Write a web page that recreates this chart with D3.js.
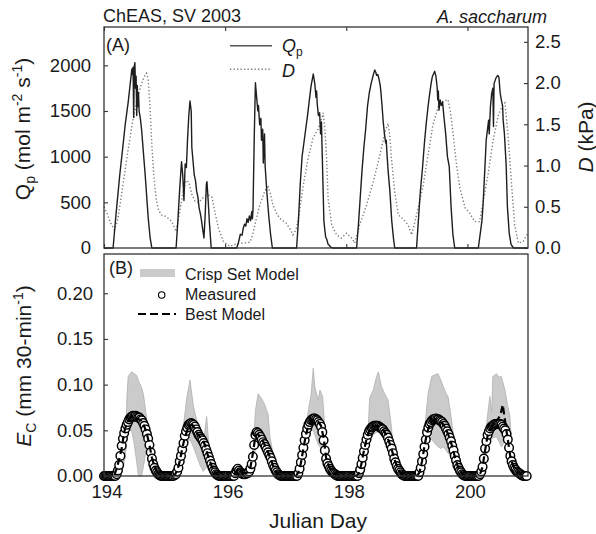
<!DOCTYPE html>
<html><head><meta charset="utf-8">
<script src="https://cdn.jsdelivr.net/npm/d3@7/dist/d3.min.js"></script>
<style>
body{margin:0;background:#fff}
svg{display:block}
text{font-family:"Liberation Sans",Arial,Helvetica,sans-serif;fill:#1a1a1a}
</style>
</head><body>
<svg id="c" width="596" height="534"></svg>
<script>
// ---------------- DATA ----------------
const dayTicks = [194, 196, 198, 200];
const qpTicks = [0, 500, 1000, 1500, 2000];
const dTicks = [0, 0.5, 1.0, 1.5, 2.0, 2.5];
const ecTicks = [0, 0.05, 0.10, 0.15, 0.20];

// Qp (solid line), irregular sampling
const qpDays = [
194.00,194.15,194.20,194.26,194.31,194.35,194.40,194.43,194.46,194.47,194.48,194.49,194.50,194.51,194.52,194.53,194.54,194.55,194.56,194.57,194.58,194.60,194.62,194.65,194.68,194.73,194.76,194.79,
195.19,195.22,195.25,195.28,195.30,195.32,195.34,195.36,195.38,195.40,195.42,195.44,195.45,195.47,195.49,195.51,195.53,195.55,195.57,195.59,195.61,195.635,195.65,195.67,195.69,195.70,195.72,195.74,195.77,
196.19,196.22,196.25,196.28,196.30,196.32,196.34,196.36,196.38,196.40,196.42,196.44,196.45,196.46,196.48,196.50,196.52,196.54,196.55,196.57,196.59,196.60,196.62,196.63,196.65,196.66,196.69,196.72,196.75,196.78,
197.18,197.21,197.24,197.27,197.30,197.33,197.36,197.39,197.42,197.455,197.48,197.50,197.51,197.52,197.54,197.56,197.575,197.59,197.60,197.615,197.63,197.645,197.66,197.68,197.70,197.72,197.74,197.78,
198.17,198.20,198.23,198.26,198.29,198.32,198.35,198.38,198.41,198.44,198.47,198.49,198.50,198.52,198.54,198.56,198.57,198.59,198.61,198.63,198.65,198.66,198.67,198.69,198.72,198.75,198.78,198.80,
199.16,199.19,199.22,199.26,199.29,199.32,199.35,199.37,199.40,199.42,199.46,199.48,199.50,199.51,199.52,199.53,199.55,199.57,199.59,199.61,199.64,199.67,199.70,199.73,199.76,199.79,
200.18,200.21,200.24,200.26,200.29,200.31,200.33,200.35,200.36,200.38,200.40,200.42,200.43,200.44,200.47,200.50,200.52,200.54,200.56,200.58,200.59,200.61,200.64,200.66,200.69,200.72,200.76,201.00];
const qpValues = [
0,0,380,800,1100,1350,1600,1780,1960,1900,1980,1430,1990,2030,1750,1880,1450,1780,1550,1700,1500,1420,1300,1050,800,330,120,0,
0,300,650,944,800,520,920,880,1200,1450,1610,1500,1100,950,800,740,620,560,440,380,300,180,110,350,700,725,520,280,0,
0,60,150,140,220,260,240,320,280,350,300,400,320,420,1200,1810,1650,1500,1560,1350,1420,1180,1300,930,1250,900,600,350,150,0,
0,300,700,1000,1150,1300,1450,1620,1780,1905,1800,1650,1720,1580,1450,1480,1250,1380,1100,700,300,200,120,90,40,30,10,0,
0,250,550,850,1100,1300,1550,1700,1800,1880,1950,1920,1890,1900,1850,1780,1720,1560,1380,1250,1150,1180,1050,850,620,300,100,0,
0,300,600,890,1150,1365,1550,1655,1800,1875,1935,1880,1760,1620,1720,1510,1620,1560,1600,1450,1258,1000,890,450,150,0,
0,150,300,500,900,1180,1290,1400,1250,1550,1690,1750,1330,1800,1860,1890,1870,1700,1620,1560,1400,1258,900,450,160,40,0,0];

// D (dotted line)
const dDays = [
194.00,194.05,194.10,194.17,194.22,194.27,194.33,194.40,194.47,194.54,194.61,194.66,194.70,194.73,194.76,194.79,194.82,194.86,194.90,194.95,
195.03,195.12,195.19,195.25,195.31,195.36,195.40,195.45,195.50,195.56,195.62,195.67,195.73,195.78,195.83,195.89,195.97,
196.08,196.19,196.30,196.41,196.45,196.49,196.57,196.66,196.71,196.75,196.79,196.85,196.90,
197.01,197.08,197.12,197.17,197.21,197.29,197.37,197.45,197.54,197.60,197.62,197.65,197.675,197.70,197.76,197.84,197.92,
198.005,198.09,198.14,198.22,198.335,198.445,198.555,198.64,198.69,198.72,198.745,198.80,198.86,198.94,
199.02,199.08,199.16,199.27,199.35,199.43,199.52,199.60,199.68,199.72,199.765,199.82,199.875,199.96,
200.04,200.12,200.20,200.26,200.34,200.42,200.51,200.58,200.62,200.67,200.73,200.78,200.84,200.92,201.00];
const dValues = [
0.50,0.42,0.32,0.22,0.32,0.55,0.85,1.20,1.52,1.78,1.97,2.07,2.12,2.05,1.70,1.25,0.90,0.60,0.46,0.40,
0.38,0.32,0.20,0.44,0.70,0.82,0.80,0.65,0.57,0.55,0.60,0.63,0.64,0.62,0.44,0.24,0.08,
0.02,0.05,0.06,0.07,0.15,0.28,0.52,0.70,0.74,0.65,0.52,0.42,0.36,
0.30,0.22,0.16,0.22,0.36,0.76,1.09,1.33,1.45,1.58,1.64,1.40,1.09,0.60,0.28,0.16,0.12,
0.18,0.12,0.06,0.28,0.52,0.80,1.13,1.41,1.51,1.35,1.09,0.68,0.40,0.35,
0.28,0.16,0.40,0.76,1.13,1.49,1.72,1.78,1.80,1.65,1.37,1.01,0.73,0.49,
0.42,0.32,0.32,0.56,0.89,1.29,1.61,1.73,1.76,1.37,0.76,0.28,0.06,0.08,0.18];

// Measured Ec, half-hourly from day 194.0 (48 values per day)
const ecStart = 194, ecStep = 1/48;
const ecMeasured = [
// 194
0,0,0,0,0,0,0,0,0,0,0.002,0.006,0.012,0.022,0.033,0.041,0.047,0.052,0.056,0.059,0.062,0.064,0.065,0.066,
0.065,0.066,0.065,0.064,0.064,0.062,0.061,0.058,0.055,0.051,0.046,0.041,0.034,0.026,0.019,0.013,0.009,0.006,0.004,0.002,0.001,0,0,0,
// 195
0,0,0,0,0,0,0,0,0.001,0.002,0.005,0.009,0.016,0.022,0.029,0.036,0.044,0.049,0.053,0.056,0.057,0.058,0.057,0.056,
0.054,0.051,0.048,0.045,0.043,0.041,0.039,0.036,0.033,0.029,0.025,0.021,0.017,0.013,0.009,0.006,0.004,0.002,0.001,0,0,0,0,0,
// 196
0,0,0,0,0,0,0,0,0.003,0.006,0.008,0.006,0.004,0.003,0.002,0.002,0.002,0.003,0.003,0.005,0.008,0.013,0.021,0.034,
0.045,0.048,0.047,0.045,0.043,0.040,0.037,0.035,0.032,0.029,0.026,0.023,0.020,0.016,0.012,0.009,0.006,0.004,0.002,0.001,0,0,0,0,
// 197
0,0,0,0,0,0,0,0,0,0,0.003,0.008,0.015,0.023,0.031,0.039,0.046,0.052,0.056,0.059,0.061,0.062,0.063,0.063,
0.062,0.061,0.059,0.057,0.054,0.048,0.039,0.028,0.019,0.014,0.011,0.008,0.006,0.004,0.003,0.002,0.001,0,0,0,0,0,0,0,
// 198
0,0,0,0,0,0,0,0,0,0,0.003,0.007,0.013,0.020,0.027,0.034,0.040,0.045,0.049,0.051,0.053,0.054,0.055,0.055,
0.055,0.055,0.054,0.053,0.052,0.051,0.049,0.047,0.045,0.042,0.038,0.034,0.030,0.025,0.019,0.015,0.011,0.008,0.006,0.004,0.002,0.001,0,0,
// 199
0,0,0,0,0,0,0,0,0,0,0.004,0.009,0.016,0.024,0.032,0.040,0.048,0.053,0.057,0.059,0.061,0.062,0.062,0.063,
0.062,0.062,0.061,0.060,0.059,0.057,0.055,0.052,0.049,0.046,0.042,0.038,0.033,0.028,0.022,0.017,0.012,0.009,0.006,0.004,0.002,0.001,0,0,
// 200
0,0,0,0,0,0,0,0,0,0,0.002,0.005,0.010,0.019,0.030,0.038,0.045,0.049,0.052,0.054,0.055,0.056,0.057,0.057,
0.057,0.057,0.057,0.056,0.054,0.052,0.050,0.046,0.040,0.031,0.022,0.016,0.012,0.009,0.007,0.005,0.004,0.003,0.002,0.001,0,0,0,0];

// Best model (dashed), hourly from day 194.0 (24 values per day)
const bestStart = 194, bestStep = 1/24;
const bestModel = [
0,0,0,0,0,0.008,0.018,0.030,0.048,0.058,0.063,0.065,0.064,0.063,0.062,0.060,0.054,0.046,0.034,0.020,0.010,0.004,0.001,0,
0,0,0,0,0.001,0.006,0.016,0.030,0.042,0.050,0.055,0.056,0.052,0.046,0.043,0.040,0.034,0.024,0.016,0.008,0.003,0.001,0,0,
0,0,0,0,0.003,0.007,0.005,0.003,0.003,0.004,0.009,0.025,0.044,0.046,0.042,0.038,0.032,0.026,0.019,0.011,0.005,0.002,0,0,
0,0,0,0,0,0.004,0.014,0.030,0.045,0.055,0.060,0.062,0.061,0.059,0.055,0.042,0.020,0.011,0.006,0.003,0.001,0,0,0,
0,0,0,0,0,0.003,0.013,0.028,0.040,0.049,0.053,0.054,0.055,0.054,0.052,0.049,0.044,0.037,0.029,0.019,0.011,0.005,0.002,0,
0,0,0,0,0,0.004,0.016,0.033,0.047,0.056,0.060,0.062,0.062,0.060,0.058,0.054,0.048,0.041,0.032,0.021,0.012,0.005,0.002,0,
0,0,0,0,0,0.002,0.010,0.028,0.044,0.052,0.056,0.060,0.062,0.066,0.078,0.058,0.040,0.021,0.012,0.007,0.004,0.002,0.001,0];

// Crisp set model band (lower / upper)
const bandDays = [
194.00,194.30,194.35,194.38,194.40,194.455,194.50,194.54,194.57,194.62,194.65,194.70,194.76,194.80,194.85,
195.20,195.25,195.31,195.365,195.42,195.475,195.53,195.585,195.64,195.695,195.72,195.75,195.80,195.85,
196.44,196.47,196.50,196.545,196.60,196.655,196.71,196.74,196.79,196.85,
197.22,197.27,197.32,197.37,197.42,197.455,197.48,197.535,197.565,197.61,197.65,197.67,197.72,
198.26,198.30,198.35,198.385,198.445,198.50,198.53,198.58,198.635,198.69,198.745,198.77,198.80,198.85,
199.20,199.24,199.28,199.32,199.35,199.41,199.47,199.515,199.56,199.60,199.65,199.68,199.735,199.775,199.82,199.86,
200.20,200.24,200.28,200.33,200.37,200.40,200.42,200.48,200.52,200.56,200.62,200.67,200.70,200.73,200.78,200.83,201.00];
const bandLow = [
0,0.005,0.02,0.04,0.05,0.05,0.035,0.015,0,0,0.01,0.03,0.02,0.005,0,
0,0.005,0.025,0.035,0.04,0.032,0.022,0.012,0.005,0.01,0.008,0.004,0,0,
0,0.015,0.03,0.035,0.035,0.03,0.02,0.015,0.008,0,
0,0.01,0.03,0.045,0.05,0.05,0.045,0.035,0.032,0.025,0.01,0.005,0,
0,0.005,0.025,0.04,0.045,0.048,0.048,0.047,0.045,0.04,0.03,0.025,0.015,0,
0,0.005,0.015,0.03,0.04,0.04,0.035,0.032,0.03,0.032,0.028,0.025,0.02,0.012,0.005,0,
0,0.003,0.015,0.035,0.04,0.04,0.042,0.043,0.038,0.032,0.038,0.03,0.015,0.008,0.002,0,0];
const bandHigh = [
0,0.012,0.03,0.09,0.109,0.114,0.112,0.110,0.104,0.097,0.09,0.065,0.033,0.012,0,
0,0.015,0.054,0.085,0.105,0.077,0.061,0.043,0.036,0.065,0.043,0.018,0.004,0,
0.005,0.035,0.072,0.09,0.085,0.078,0.067,0.043,0.025,0,
0.005,0.025,0.05,0.07,0.09,0.118,0.098,0.083,0.094,0.087,0.047,0.018,0,
0.004,0.012,0.035,0.085,0.094,0.109,0.114,0.098,0.09,0.083,0.054,0.032,0.02,0,
0,0.015,0.04,0.07,0.09,0.109,0.111,0.112,0.105,0.098,0.09,0.087,0.063,0.04,0.01,0,
0,0.01,0.035,0.065,0.087,0.07,0.109,0.112,0.108,0.109,0.094,0.075,0.066,0.036,0.01,0,0];

// ---------------- CHART ----------------
const svg = d3.select("#c");
const L = 104, R = 528;
const x = d3.scaleLinear().domain([194, 201]).range([L, R]);
const yQ = d3.scaleLinear().domain([0, 2420]).range([248, 27]);
const yD = d3.scaleLinear().domain([0, 2.68]).range([248, 27]);
const yE = d3.scaleLinear().domain([0, 0.243]).range([476, 254]);

const TICKFS = "18.5px";
function styleAxis(g) {
  g.select(".domain").remove();
  g.selectAll(".tick line").attr("stroke", "#333").attr("stroke-width", 1.1);
  g.selectAll(".tick text").attr("font-size", TICKFS).attr("fill", "#1a1a1a")
   .attr("font-family", '"Liberation Sans",Arial,sans-serif');
}

// ---- Panel A ----
const qpData = qpDays.map((d, i) => ({t: d, v: qpValues[i]}));
const dData = dDays.map((d, i) => ({t: d, v: dValues[i]}));

svg.append("path").datum(dData)
  .attr("fill", "none").attr("stroke", "#7a7a7a").attr("stroke-width", 1.4)
  .attr("stroke-dasharray", "1.3,2.2")
  .attr("d", d3.line().x(d => x(d.t)).y(d => yD(d.v)));
svg.append("path").datum(qpData)
  .attr("fill", "none").attr("stroke", "#1e1e1e").attr("stroke-width", 1.4)
  .attr("stroke-linejoin", "round")
  .attr("d", d3.line().x(d => x(d.t)).y(d => yQ(d.v)));

svg.append("g").attr("transform", `translate(${L},0)`)
  .call(d3.axisLeft(yQ).tickValues(qpTicks).tickSize(-4).tickPadding(13).tickFormat(d3.format("d")))
  .call(styleAxis);
svg.append("g").attr("transform", `translate(${R},0)`)
  .call(d3.axisRight(yD).tickValues(dTicks).tickSize(-4).tickPadding(7).tickFormat(d3.format(".1f")))
  .call(styleAxis);
svg.append("g").attr("transform", `translate(0,27)`)
  .call(d3.axisTop(x).tickValues(dayTicks).tickSize(-4).tickFormat(""))
  .call(styleAxis);
svg.append("g").attr("transform", `translate(0,248)`)
  .call(d3.axisBottom(x).tickValues(dayTicks).tickSize(-4).tickFormat(""))
  .call(styleAxis);
svg.append("rect").attr("x", L).attr("y", 27).attr("width", R - L).attr("height", 221)
  .attr("fill", "none").attr("stroke", "#333").attr("stroke-width", 1.3);

// ---- Panel B ----
const bandData = bandDays.map((d, i) => ({t: d, lo: bandLow[i], hi: bandHigh[i]}));
svg.append("path").datum(bandData)
  .attr("fill", "#cbcbcb").attr("stroke", "#b0b0b0").attr("stroke-width", 0.8)
  .attr("d", d3.area().x(d => x(d.t)).y0(d => yE(d.lo)).y1(d => yE(d.hi)));

const ecData = ecMeasured.map((v, i) => ({t: ecStart + i * ecStep, v}));
svg.append("g").selectAll("circle").data(ecData).join("circle")
  .attr("cx", d => x(d.t)).attr("cy", d => yE(d.v)).attr("r", 4.3)
  .attr("fill", "#fff").attr("stroke", "#000").attr("stroke-width", 1.45);

const bestData = bestModel.map((v, i) => ({t: bestStart + i * bestStep, v}));
svg.append("path").datum(bestData)
  .attr("fill", "none").attr("stroke", "#000").attr("stroke-width", 2.2)
  .attr("stroke-dasharray", "7,4")
  .attr("d", d3.line().x(d => x(d.t)).y(d => yE(d.v)));

svg.append("g").attr("transform", `translate(${L},0)`)
  .call(d3.axisLeft(yE).tickValues(ecTicks).tickSize(-4).tickPadding(11).tickFormat(d3.format(".2f")))
  .call(styleAxis);
const bx = svg.append("g").attr("transform", `translate(0,476)`)
  .call(d3.axisBottom(x).tickValues(dayTicks).tickSize(-4).tickPadding(8.5).tickFormat(d3.format("d")))
  .call(styleAxis);
bx.selectAll(".tick text").attr("dx", 2.5);
svg.append("rect").attr("x", L).attr("y", 254).attr("width", R - L).attr("height", 222)
  .attr("fill", "none").attr("stroke", "#333").attr("stroke-width", 1.3);

// ---- Texts ----
svg.append("text").attr("x", 103).attr("y", 22).attr("font-size", "18px").text("ChEAS, SV 2003");
svg.append("text").attr("x", 547).attr("y", 23).attr("font-size", "18px").attr("font-style", "italic")
  .attr("text-anchor", "end").text("A. saccharum");
svg.append("text").attr("x", 106).attr("y", 51).attr("font-size", "18px").text("(A)");
svg.append("text").attr("x", 109).attr("y", 274).attr("font-size", "18px").text("(B)");

// legend A
svg.append("line").attr("x1", 230).attr("x2", 272).attr("y1", 45.7).attr("y2", 45.7)
  .attr("stroke", "#555").attr("stroke-width", 1.4);
svg.append("line").attr("x1", 230).attr("x2", 272).attr("y1", 69.3).attr("y2", 69.3)
  .attr("stroke", "#7a7a7a").attr("stroke-width", 1.4).attr("stroke-dasharray", "1.3,2.2");
const lq = svg.append("text").attr("x", 282).attr("y", 52).attr("font-size", "18px");
lq.append("tspan").attr("font-style", "italic").text("Q");
lq.append("tspan").attr("font-size", "12px").attr("dy", 4).text("p");
svg.append("text").attr("x", 282).attr("y", 77).attr("font-size", "18px").attr("font-style", "italic").text("D");

// legend B
svg.append("rect").attr("x", 140).attr("y", 269).attr("width", 35).attr("height", 8).attr("fill", "#cbcbcb");
svg.append("text").attr("x", 185).attr("y", 280).attr("font-size", "16px").text("Crisp Set Model");
svg.append("circle").attr("cx", 161.7).attr("cy", 295).attr("r", 3.2)
  .attr("fill", "#fff").attr("stroke", "#000").attr("stroke-width", 1.1);
svg.append("text").attr("x", 185).attr("y", 300).attr("font-size", "16px").text("Measured");
svg.append("line").attr("x1", 138).attr("x2", 176).attr("y1", 314).attr("y2", 314)
  .attr("stroke", "#000").attr("stroke-width", 2).attr("stroke-dasharray", "8,4");
svg.append("text").attr("x", 185).attr("y", 320).attr("font-size", "16px").text("Best Model");

// axis titles
const yl = svg.append("text").attr("transform", "translate(30,129) rotate(-90)")
  .attr("text-anchor", "middle").attr("font-size", "21px");
yl.append("tspan").text("Q");
yl.append("tspan").attr("font-size", "14px").attr("dy", 5).text("p");
yl.append("tspan").attr("dy", -5).text(" (mol m");
yl.append("tspan").attr("font-size", "14px").attr("dy", -8).text("-2");
yl.append("tspan").attr("dy", 8).text(" s");
yl.append("tspan").attr("font-size", "14px").attr("dy", -8).text("-1");
yl.append("tspan").attr("dy", 8).text(")");

const el = svg.append("text").attr("transform", "translate(31,366) rotate(-90)")
  .attr("text-anchor", "middle").attr("font-size", "21px");
el.append("tspan").attr("font-style", "italic").text("E");
el.append("tspan").attr("font-size", "14px").attr("dy", 5).text("C");
el.append("tspan").attr("dy", -5).text(" (mm 30-min");
el.append("tspan").attr("font-size", "14px").attr("dy", -8).text("-1");
el.append("tspan").attr("dy", 8).text(")");

const rl = svg.append("text").attr("transform", "translate(593,137) rotate(-90)")
  .attr("text-anchor", "middle").attr("font-size", "21px");
rl.append("tspan").attr("font-style", "italic").text("D");
rl.append("tspan").text(" (kPa)");

svg.append("text").attr("x", 318).attr("y", 528).attr("text-anchor", "middle")
  .attr("font-size", "21px").text("Julian Day");
</script>
</body></html>
